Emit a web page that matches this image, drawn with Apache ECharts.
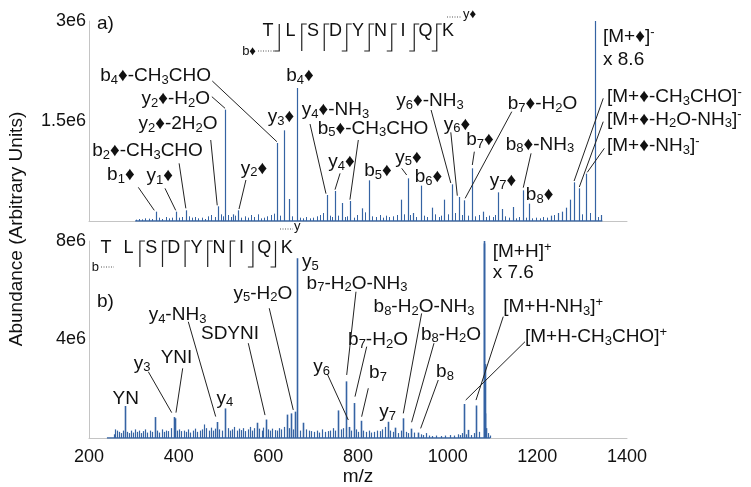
<!DOCTYPE html>
<html><head><meta charset="utf-8">
<script src="https://cdn.jsdelivr.net/npm/echarts/dist/echarts.min.js"></script>
<style>html,body{margin:0;padding:0;background:#fff}#c{width:751px;height:487px}</style>
</head><body><div id="c"></div>
<script>
// ---------------- DATA ----------------
// panel a) major peaks [m/z, abundance]
const topPeaks = [
 [348.5,0.14e6],[394,0.14e6],[416,0.16e6],[487,0.22e6],[504,1.67e6],[521,0.10e6],[532,0.16e6],
 [619,1.17e6],[634,1.36e6],[645,0.33e6],[663,1.995e6],[731,0.39e6],[749,0.45e6],[764,0.27e6],
 [782,0.30e6],[808,0.19e6],[825,0.61e6],[895,0.32e6],[911,0.64e6],[922,0.12e6],[940,0.53e6],
 [965,0.20e6],[992,0.32e6],[1009,0.55e6],[1025,0.36e6],[1036,0.31e6],[1054,0.79e6],[1078,0.14e6],
 [1113,0.43e6],[1121,0.18e6],[1145,0.21e6],[1168,0.46e6],[1181,0.26e6],[1230,0.08e6],[1247,0.12e6],
 [1256,0.14e6],[1264,0.20e6],[1273,0.32e6],[1282,0.58e6],[1293,0.49e6],[1309,0.71e6],[1328,3.0e6],
 [1342,0.09e6]
];
// panel a) small peaks
const topSmall = [
 [305,0.02e6],[312,0.03e6],[318,0.025e6],[326,0.04e6],[333,0.035e6],[340,0.03e6],[356,0.05e6],[362,0.03e6],
 [371,0.06e6],[378,0.04e6],[385,0.05e6],[401,0.05e6],[408,0.06e6],[423,0.07e6],[430,0.05e6],[437,0.06e6],
 [444,0.04e6],[452,0.05e6],[459,0.03e6],[466,0.07e6],[473,0.09e6],[480,0.06e6],[494,0.10e6],[499,0.07e6],
 [511,0.09e6],[516,0.06e6],[526,0.08e6],[540,0.05e6],[548,0.07e6],[555,0.05e6],[562,0.09e6],[569,0.06e6],
 [577,0.10e6],[584,0.04e6],[591,0.05e6],[598,0.07e6],[605,0.09e6],[612,0.11e6],[626,0.08e6],[652,0.07e6],
 [670,0.05e6],[677,0.04e6],[685,0.06e6],[692,0.04e6],[700,0.05e6],[708,0.07e6],[716,0.09e6],[722,0.12e6],
 [738,0.08e6],[742,0.06e6],[756,0.08e6],[770,0.06e6],[776,0.07e6],[790,0.05e6],[797,0.09e6],[815,0.13e6],
 [832,0.07e6],[840,0.06e6],[848,0.09e6],[856,0.05e6],[863,0.08e6],[870,0.06e6],[878,0.07e6],[886,0.09e6],
 [903,0.10e6],[916,0.09e6],[930,0.06e6],[948,0.08e6],[955,0.06e6],[972,0.10e6],[980,0.06e6],[986,0.08e6],
 [1000,0.10e6],[1016,0.12e6],[1031,0.09e6],[1046,0.08e6],[1062,0.07e6],[1070,0.09e6],[1086,0.06e6],[1093,0.08e6],
 [1100,0.06e6],[1106,0.09e6],[1128,0.07e6],[1136,0.05e6],[1152,0.04e6],[1160,0.06e6],[1175,0.05e6],[1188,0.04e6],
 [1196,0.05e6],[1205,0.04e6],[1213,0.06e6],[1221,0.05e6],[1238,0.09e6],[1300,0.10e6],[1318,0.12e6],[1335,0.06e6]
];
// panel b) major peaks
const bottomPeaks = [
 [280,1.30e6],[347,0.85e6],[389,0.85e6],[391,0.80e6],[486,0.65e6],[503,1.20e6],[575,0.62e6],[594,0.75e6],
 [641,0.95e6],[650,1.00e6],[659,1.07e6],[665,7.30e6],[678,0.62e6],[755,1.12e6],[773,2.30e6],[780,0.45e6],
 [790,1.42e6],[807,0.70e6],[866,0.66e6],[883,0.42e6],[901,0.80e6],[918,0.38e6],[934,0.22e6],[1037,1.38e6],
 [1046,0.33e6],[1064,1.32e6],[1081,8.0e6],[1082,7.9e6],[1083,3.0e6],[1084,1.0e6],[1086,0.4e6]
];
// panel b) small peaks
const bottomSmall = [
 [255,0.15e6],[259,0.35e6],[263,0.30e6],[267,0.25e6],[271,0.20e6],[275,0.30e6],[285,0.25e6],[289,0.20e6],
 [293,0.30e6],[298,0.22e6],[302,0.35e6],[306,0.25e6],[311,0.30e6],[316,0.20e6],[320,0.28e6],[325,0.35e6],
 [330,0.22e6],[335,0.30e6],[340,0.25e6],[352,0.30e6],[357,0.22e6],[362,0.35e6],[367,0.25e6],[372,0.30e6],
 [377,0.28e6],[382,0.40e6],[396,0.30e6],[401,0.35e6],[406,0.28e6],[411,0.30e6],[416,0.25e6],[421,0.35e6],
 [426,0.22e6],[431,0.30e6],[437,0.38e6],[442,0.25e6],[447,0.30e6],[452,0.35e6],[457,0.55e6],[462,0.40e6],
 [467,0.30e6],[472,0.42e6],[477,0.30e6],[482,0.38e6],[491,0.35e6],[496,0.30e6],[509,0.40e6],[514,0.30e6],
 [519,0.35e6],[524,0.45e6],[529,0.30e6],[534,0.38e6],[539,0.32e6],[544,0.40e6],[549,0.28e6],[554,0.35e6],
 [559,0.45e6],[564,0.30e6],[569,0.40e6],[580,0.38e6],[585,0.30e6],[589,0.42e6],[599,0.35e6],[604,0.30e6],
 [609,0.38e6],[614,0.32e6],[619,0.30e6],[624,0.40e6],[629,0.35e6],[635,0.45e6],[645,0.40e6],[655,0.35e6],
 [670,0.30e6],[684,0.35e6],[690,0.30e6],[696,0.28e6],[702,0.25e6],[708,0.30e6],[714,0.22e6],[720,0.35e6],
 [726,0.25e6],[732,0.28e6],[738,0.30e6],[744,0.40e6],[749,0.30e6],[761,0.35e6],[767,0.40e6],[785,0.30e6],
 [796,0.35e6],[801,0.25e6],[812,0.30e6],[818,0.25e6],[824,0.30e6],[830,0.22e6],[836,0.25e6],[842,0.30e6],
 [848,0.28e6],[854,0.35e6],[860,0.45e6],[872,0.30e6],[878,0.25e6],[889,0.20e6],[895,0.30e6],[907,0.25e6],
 [912,0.20e6],[924,0.22e6],[940,0.15e6],[946,0.12e6],[952,0.20e6],[958,0.10e6],[965,0.08e6],[975,0.10e6],
 [985,0.08e6],[995,0.10e6],[1005,0.12e6],[1015,0.10e6],[1022,0.15e6],[1028,0.12e6],[1032,0.20e6],[1042,0.15e6],
 [1052,0.12e6],[1058,0.20e6],[1070,0.25e6],[1090,0.20e6],[1095,0.10e6]
];
const topSpan = [303, 1345];
const bottomSpan = [240, 1095];
const yTicksTop = [0, 1.5e6, 3e6];
const yTicksBottom = [0, 4e6, 8e6];
const xTickStep = 200;

// peak annotations: [text, m/z, abundance, align]
const topLabels = [
 ['b{s|4}♦-CH{s|3}CHO',472,2.175e6,'right'],
 ['y{s|2}♦-H{s|2}O',470,1.83e6,'right'],
 ['y{s|2}♦-2H{s|2}O',398.5,1.455e6,'center'],
 ['b{s|2}♦-CH{s|3}CHO',330.5,1.055e6,'center'],
 ['b{s|1}♦',271,0.69e6,'center'],
 ['y{s|1}♦',358,0.675e6,'center'],
 ['y{s|2}♦',568,0.79e6,'center'],
 ['b{s|4}♦',670.6,2.175e6,'center'],
 ['y{s|3}♦',628,1.565e6,'center'],
 ['y{s|4}♦-NH{s|3}',750,1.665e6,'center'],
 ['b{s|5}♦-CH{s|3}CHO',833.5,1.39e6,'center'],
 ['y{s|4}♦',763,0.89e6,'center'],
 ['b{s|5}♦',844.6,0.755e6,'center'],
 ['y{s|5}♦',912.6,0.955e6,'center'],
 ['b{s|6}♦',957,0.665e6,'center'],
 ['y{s|6}♦-NH{s|3}',960.6,1.8e6,'center'],
 ['y{s|6}♦',1021,1.45e6,'center'],
 ['b{s|7}♦',1072,1.215e6,'center'],
 ['b{s|7}♦-H{s|2}O',1211.5,1.755e6,'center'],
 ['b{s|8}♦-NH{s|3}',1206,1.15e6,'center'],
 ['y{s|7}♦',1123.4,0.605e6,'center'],
 ['b{s|8}♦',1205,0.39e6,'center'],
 ['[M+♦]{p|-}',1346.5,2.765e6,'left'],
 ['x 8.6',1346.5,2.415e6,'left'],
 ['[M+♦-CH{s|3}CHO]{p|-}',1355.4,1.865e6,'left'],
 ['[M+♦-H{s|2}O-NH{s|3}]{p|-}',1355.4,1.525e6,'left'],
 ['[M+♦-NH{s|3}]{p|-}',1355.4,1.13e6,'left'],
 ['a)',217.8,2.965e6,'left']
];
// leader lines [m/z1, ab1, m/z2, ab2]
const topLeaders = [
 [475,2.10e6,619,1.19e6],[474,1.865e6,503.5,1.69e6],[471.5,1.215e6,486,0.235e6],[401,0.865e6,416,0.19e6],
 [310,0.505e6,345.6,0.16e6],[369.5,0.49e6,393.4,0.16e6],[550,0.615e6,534.6,0.18e6],[693,1.455e6,728.6,0.41e6],
 [800.7,1.215e6,782,0.32e6],[760,0.715e6,748.7,0.47e6],[897.5,0.79e6,908.6,0.69e6],[963,1.665e6,1007,0.57e6],
 [1007,1.33e6,1021.5,0.38e6],[1059.5,1.04e6,1055,0.84e6],[1143,1.64e6,1039,0.34e6],[1186,1.015e6,1168.6,0.5e6],
 [1347,1.84e6,1282,0.6e6],[1347,1.49e6,1293.6,0.51e6],[1349.4,1.09e6,1311.4,0.73e6]
];
const bottomLabels = [
 ['YN',281.9,1.61e6,'center'],
 ['y{s|3}',318.2,3.03e6,'center'],
 ['YNI',395.2,3.26e6,'center'],
 ['y{s|4}-NH{s|3}',397.4,4.995e6,'center'],
 ['y{s|4}',503.3,1.61e6,'center'],
 ['SDYNI',514.5,4.25e6,'center'],
 ['y{s|5}-H{s|2}O',588,5.875e6,'center'],
 ['y{s|5}',675,7.16e6,'left'],
 ['b{s|7}-H{s|2}O-NH{s|3}',797.8,6.28e6,'center'],
 ['y{s|6}',718.6,2.895e6,'center'],
 ['b{s|7}-H{s|2}O',844.6,3.98e6,'center'],
 ['b{s|7}',844.6,2.63e6,'center'],
 ['y{s|7}',865.8,1.07e6,'center'],
 ['b{s|8}-H{s|2}O-NH{s|3}',947.2,5.31e6,'center'],
 ['b{s|8}-H{s|2}O',1007.4,4.21e6,'center'],
 ['b{s|8}',994,2.67e6,'center'],
 ['[M+H]{p|+}',1100.5,7.565e6,'left'],
 ['x 7.6',1100.5,6.69e6,'left'],
 ['[M+H-NH{s|3}]{p|+}',1124,5.31e6,'left'],
 ['[M+H-CH{s|3}CHO]{p|+}',1172.5,4.11e6,'left'],
 ['b)',217.8,5.52e6,'left']
];
const bottomLeaders = [
 [332.3,2.69e6,384.5,1.03e6],[409,2.83e6,394,1.03e6],[421.5,4.72e6,482.6,0.87e6],[555.3,3.85e6,592.6,0.93e6],
 [602,5.27e6,655.6,1.14e6],[795.5,5.94e6,774.8,2.56e6],[731.5,2.6e6,778.4,0.73e6],[819.4,3.71e6,793.3,1.68e6],
 [823,2.02e6,808.1,0.865e6],[941.9,5.06e6,901,1.0e6],[969.5,3.85e6,919.6,0.64e6],[979,2.355e6,939.7,0.39e6],
 [1124,4.93e6,1063.2,1.54e6],[1172.5,3.91e6,1040.2,1.54e6]
];
// peptide sequence and observed cleavage sites (b: N-term fragment, y: C-term fragment)
const sequence = ['T','L','S','D','Y','N','I','Q','K'];
const topSites = ['b','y','y','by','by','by','by','by'];
const bottomSites = ['','y','y','y','y','y','b','b'];

// ---------------- STYLE / LAYOUT ----------------
const FONT = "'Liberation Sans', Arial, Helvetica, sans-serif";
const STICK = '#3563a3';
const AXIS = '#c4c4c4';
const TXT = '#111';
const rich = {
  s: {fontSize: 13, lineHeight: 13, verticalAlign: 'bottom', fontFamily: FONT, fill: TXT},
  p: {fontSize: 13, lineHeight: 13, verticalAlign: 'top', fontFamily: FONT, fill: TXT}
};

const chart = echarts.init(document.getElementById('c'));

function stickSeries(idx, data, width) {
  return {
    type: 'custom', xAxisIndex: idx, yAxisIndex: idx, silent: true, z: 2,
    data: data,
    renderItem: function (params, api) {
      const x = api.value(0), v = api.value(1);
      const p0 = api.coord([x, 0]), p1 = api.coord([x, v]);
      const px = Math.round(p0[0]) + 0.5;
      return {type: 'line', shape: {x1: px, y1: p0[1], x2: px, y2: p1[1]},
        style: {stroke: STICK, lineWidth: width}};
    }
  };
}
function spanSeries(idx, span) {
  return {type: 'line', xAxisIndex: idx, yAxisIndex: idx, silent: true, symbol: 'none', z: 3,
    data: [[span[0], 0], [span[1], 0]], lineStyle: {color: STICK, width: 1.5}};
}
function labelSeries(idx, labels) {
  return {
    type: 'custom', xAxisIndex: idx, yAxisIndex: idx, silent: true, clip: false, z: 6,
    data: labels.map(l => [l[1], l[2]]),
    renderItem: function (params, api) {
      const l = labels[params.dataIndex];
      const p = api.coord([api.value(0), api.value(1)]);
      return {type: 'text', style: {text: l[0], x: p[0], y: p[1], align: l[3], verticalAlign: 'middle',
        fontSize: 19, fontFamily: FONT, fill: TXT, lineHeight: 22, rich: rich}};
    }
  };
}
function leaderSeries(idx, lines) {
  return {
    type: 'custom', xAxisIndex: idx, yAxisIndex: idx, silent: true, clip: false, z: 5,
    data: lines, encode: {x: [0, 2], y: [1, 3]},
    renderItem: function (params, api) {
      const a = api.coord([api.value(0), api.value(1)]);
      const b = api.coord([api.value(2), api.value(3)]);
      return {type: 'line', shape: {x1: a[0], y1: a[1], x2: b[0], y2: b[1]},
        style: {stroke: '#222', lineWidth: 1}};
    }
  };
}

function seqGraphics(L) {
  const els = [];
  const xs = sequence.map((s, i) => L.x0 + i * L.dx);
  sequence.forEach((s, i) => els.push({type: 'text', x: xs[i], y: L.cy,
    style: {text: s, fontSize: 18, fontFamily: FONT, fill: TXT, align: 'center', verticalAlign: 'middle'}}));
  L.sites.forEach((f, i) => {
    if (!f) return;
    const x = (xs[i] + xs[i + 1]) / 2;
    const pts = [];
    if (f.indexOf('y') >= 0) pts.push([x + 5, L.top]);
    pts.push([x, L.top]); pts.push([x, L.bottom]);
    if (f.indexOf('b') >= 0) pts.push([x - 5, L.bottom]);
    els.push({type: 'polyline', shape: {points: pts}, style: {stroke: '#222', lineWidth: 1.2, fill: null}});
  });
  els.push({type: 'line', shape: {x1: L.bLine[0], y1: L.bLine[2], x2: L.bLine[1], y2: L.bLine[2]},
    style: {stroke: '#555', lineWidth: 1, lineDash: [1, 1.5]}});
  els.push({type: 'text', x: L.bLine[0] - 2, y: L.bLine[2], style: {text: L.bText, fontSize: 13, fontFamily: FONT,
    fill: TXT, align: 'right', verticalAlign: 'middle'}});
  els.push({type: 'line', shape: {x1: L.yLine[0], y1: L.yLine[2], x2: L.yLine[1], y2: L.yLine[2]},
    style: {stroke: '#555', lineWidth: 1, lineDash: [1, 1.5]}});
  els.push({type: 'text', x: L.yLine[1] + 1, y: L.yLine[2] - 3, style: {text: L.yText, fontSize: 13, fontFamily: FONT,
    fill: TXT, align: 'left', verticalAlign: 'middle'}});
  return els;
}

const graphics = [].concat(
  seqGraphics({x0: 268, dx: 22.5, cy: 31.5, top: 24, bottom: 51, sites: topSites,
    bLine: [258, 275, 51], bText: 'b♦', yLine: [447, 462, 17], yText: 'y♦'}),
  seqGraphics({x0: 106, dx: 22.6, cy: 248.5, top: 241, bottom: 267, sites: bottomSites,
    bLine: [101, 114, 267], bText: 'b', yLine: [280, 293, 229], yText: 'y'}),
  [{type: 'text', x: 17, y: 229, rotation: Math.PI / 2,
    style: {text: 'Abundance (Arbitrary Units)', fontSize: 19, fontFamily: FONT, fill: TXT,
      align: 'center', verticalAlign: 'middle'}}]
);

function yAxisCfg(idx, ticks) {
  return {type: 'value', gridIndex: idx, min: ticks[0], max: ticks[ticks.length - 1],
    interval: ticks[1] - ticks[0], splitLine: {show: false}, axisTick: {show: false},
    axisLine: {show: true, lineStyle: {color: AXIS, width: 1}},
    axisLabel: {fontSize: 18, fontFamily: FONT, color: TXT, margin: 3,
      formatter: v => v === 0 ? '' : (v / 1e6) + 'e6'}};
}
function xAxisCfg(idx, showLabels) {
  return {type: 'value', gridIndex: idx, min: 200, max: 1400, interval: xTickStep,
    splitLine: {show: false}, axisTick: {show: false},
    axisLine: {show: true, onZero: false, lineStyle: {color: AXIS, width: 1}},
    axisLabel: {show: showLabels, fontSize: 18, fontFamily: FONT, color: TXT, margin: 10,
      formatter: v => String(v)},
    name: showLabels ? 'm/z' : '', nameLocation: 'middle', nameGap: 29,
    nameTextStyle: {fontSize: 19, fontFamily: FONT, color: TXT}};
}

chart.setOption({
  animation: false,
  backgroundColor: '#fff',
  grid: [
    {left: 89, width: 538, top: 21, height: 200, outerBoundsMode: 'none', containLabel: false},
    {left: 89, width: 538, top: 241, height: 197, outerBoundsMode: 'none', containLabel: false}
  ],
  xAxis: [xAxisCfg(0, false), xAxisCfg(1, true)],
  yAxis: [yAxisCfg(0, yTicksTop), yAxisCfg(1, yTicksBottom)],
  series: [
    stickSeries(0, topSmall, 1), stickSeries(0, topPeaks, 1.2), spanSeries(0, topSpan),
    stickSeries(1, bottomSmall, 1.2), stickSeries(1, bottomPeaks, 1.6), spanSeries(1, bottomSpan),
    leaderSeries(0, topLeaders), labelSeries(0, topLabels),
    leaderSeries(1, bottomLeaders), labelSeries(1, bottomLabels)
  ],
  graphic: graphics
});
</script></body></html>
